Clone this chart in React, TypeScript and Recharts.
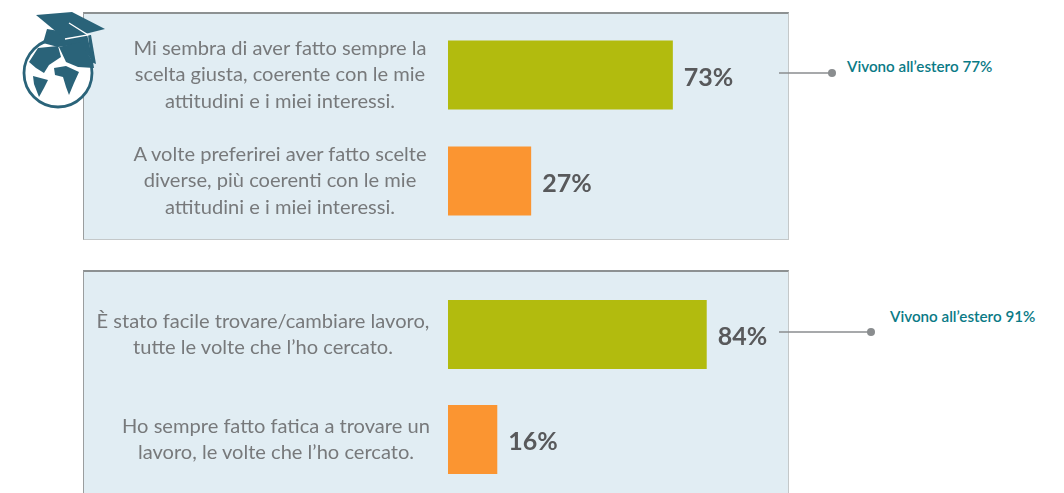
import { BarChart, Bar, Cell, XAxis, YAxis, LabelList } from 'recharts'

const topLabels = [
  'Mi sembra di aver fatto sempre la|scelta giusta, coerente con le mie|attitudini e i miei interessi.',
  'A volte preferirei aver fatto scelte|diverse, più coerenti con le mie|attitudini e i miei interessi.',
]
const topValues = [73, 27]
const bottomLabels = [
  'È stato facile trovare/cambiare lavoro,|tutte le volte che l’ho cercato.',
  'Ho sempre fatto fatica a trovare un|lavoro, le volte che l’ho cercato.',
]
const bottomValues = [84, 16]
const abroadValues = [77, 91]

const barColors = ['#b2bb0e', '#fb9531']
const PANEL_BG = '#e1edf3'
const TEAL = '#0a7a86'
const BLUE = '#2a6379'

const CategoryTick = ({ y, payload, centers, index }: any) => {
  const lines = payload.value.split('|')
  const startY = y - ((lines.length - 1) * 26.5) / 2
  return (
    <text
      textAnchor="middle"
      fontFamily="Lato"
      fontSize={20.1}
      fill="#77797b"
      style={{ filter: 'blur(0.6px)' }}
    >
      {lines.map((line: string, i: number) => (
        <tspan key={i} x={centers[index]} y={startY + i * 26.5} dy={6.5}>
          {line}
        </tspan>
      ))}
    </text>
  )
}

const Panel = ({ top, height, plotTop, plotBottom, labels, values, centers, hasBottom }: any) => {
  const data = labels.map((label: string, i: number) => ({ label, value: values[i] }))
  return (
    <div
      style={{
        position: 'absolute',
        left: 83,
        top,
        width: 706,
        height,
        background: PANEL_BG,
        boxSizing: 'border-box',
        borderTop: '2px solid #8d9192',
        borderLeft: '1px solid #9a9d9e',
        borderRight: '1px solid #c4c8c9',
        borderBottom: hasBottom ? '1px solid #c4c8c9' : 'none',
      }}
    >
      <BarChart
        width={704}
        height={height - 3}
        data={data}
        layout="vertical"
        barSize={69}
        margin={{ top: plotTop, right: 32, bottom: plotBottom, left: 0 }}
        style={{ position: 'absolute', left: 0, top: 0 }}
      >
        <XAxis type="number" domain={[0, 100]} hide />
        <YAxis
          type="category"
          dataKey="label"
          width={364}
          axisLine={false}
          tickLine={false}
          interval={0}
          tick={<CategoryTick centers={centers} />}
        />
        <Bar dataKey="value" isAnimationActive={false}>
          {data.map((d: any, i: number) => (
            <Cell key={d.label} fill={barColors[i]} />
          ))}
          <LabelList
            dataKey="value"
            position="right"
            offset={11}
            dy={2}
            formatter={(v: number) => `${v}%`}
            style={{
              fontFamily: 'Lato',
              fontWeight: 700,
              fontSize: 25,
              fill: '#58595b',
              filter: 'blur(0.5px)',
            }}
          />
        </Bar>
      </BarChart>
    </div>
  )
}

const Overlay = () => (
  <svg
    width={1064}
    height={493}
    style={{ position: 'absolute', left: 0, top: 0, pointerEvents: 'none' }}
  >
    {/* callouts */}
    <g stroke="#8a8d8f" strokeWidth={1.5}>
      <line x1={779} y1={73} x2={832} y2={73} />
      <line x1={779} y1={332} x2={871} y2={332} />
    </g>
    <circle cx={832} cy={73} r={4} fill="#8a8d8f" />
    <circle cx={871} cy={332} r={4} fill="#8a8d8f" />
    <g fontFamily="Lato" fontSize={15.2} fontWeight={600} fill={TEAL}>
      <text x={847} y={72}>Vivono all’estero {abroadValues[0]}%</text>
      <text x={890} y={322}>Vivono all’estero {abroadValues[1]}%</text>
    </g>
    {/* globe with graduation cap */}
    <circle cx={58} cy={73} r={34} fill="#fff" stroke={BLUE} strokeWidth={2.8} />
    <g fill={BLUE}>
      <path d="M47 29 L43 43 L58 47 L80 44 L93 62 L87 34 L65 32 Z" />
      <path d="M36 15 L72 12 L105 29 L65 39 Z" />
      <path d="M38 48 L58 46 L61 57 L49 65 L44 73 L36 68 L29 62 Z" />
      <path d="M33 76 L48 80 L44 88 L39 97 L34 84 Z" />
      <path d="M54 68 L66 66 L79 72 L74 83 L69 95 L66 87 L63 77 L55 75 Z" />
      <path d="M59 47 L80 42 L93 62 L94 68 L78 67 L66 62 Z" />
      <path d="M88 35 L91 35 L96 64 L91 62 Z" />
    </g>
    <path d="M65 39 L88 35 L69 23" stroke="#fff" strokeWidth={1.3} fill="none" />
  </svg>
)

export default function App() {
  return (
    <div style={{ position: 'absolute', left: 0, top: 0, width: 1064, height: 493, background: '#fff', overflow: 'hidden' }}>
      <Panel top={12} height={228} plotTop={7.5} plotBottom={5.5} labels={topLabels} values={topValues} centers={[196, 196]} hasBottom />
      <Panel top={270} height={223} plotTop={10} plotBottom={0} labels={bottomLabels} values={bottomValues} centers={[179, 192]} />
      <Overlay />
    </div>
  )
}
